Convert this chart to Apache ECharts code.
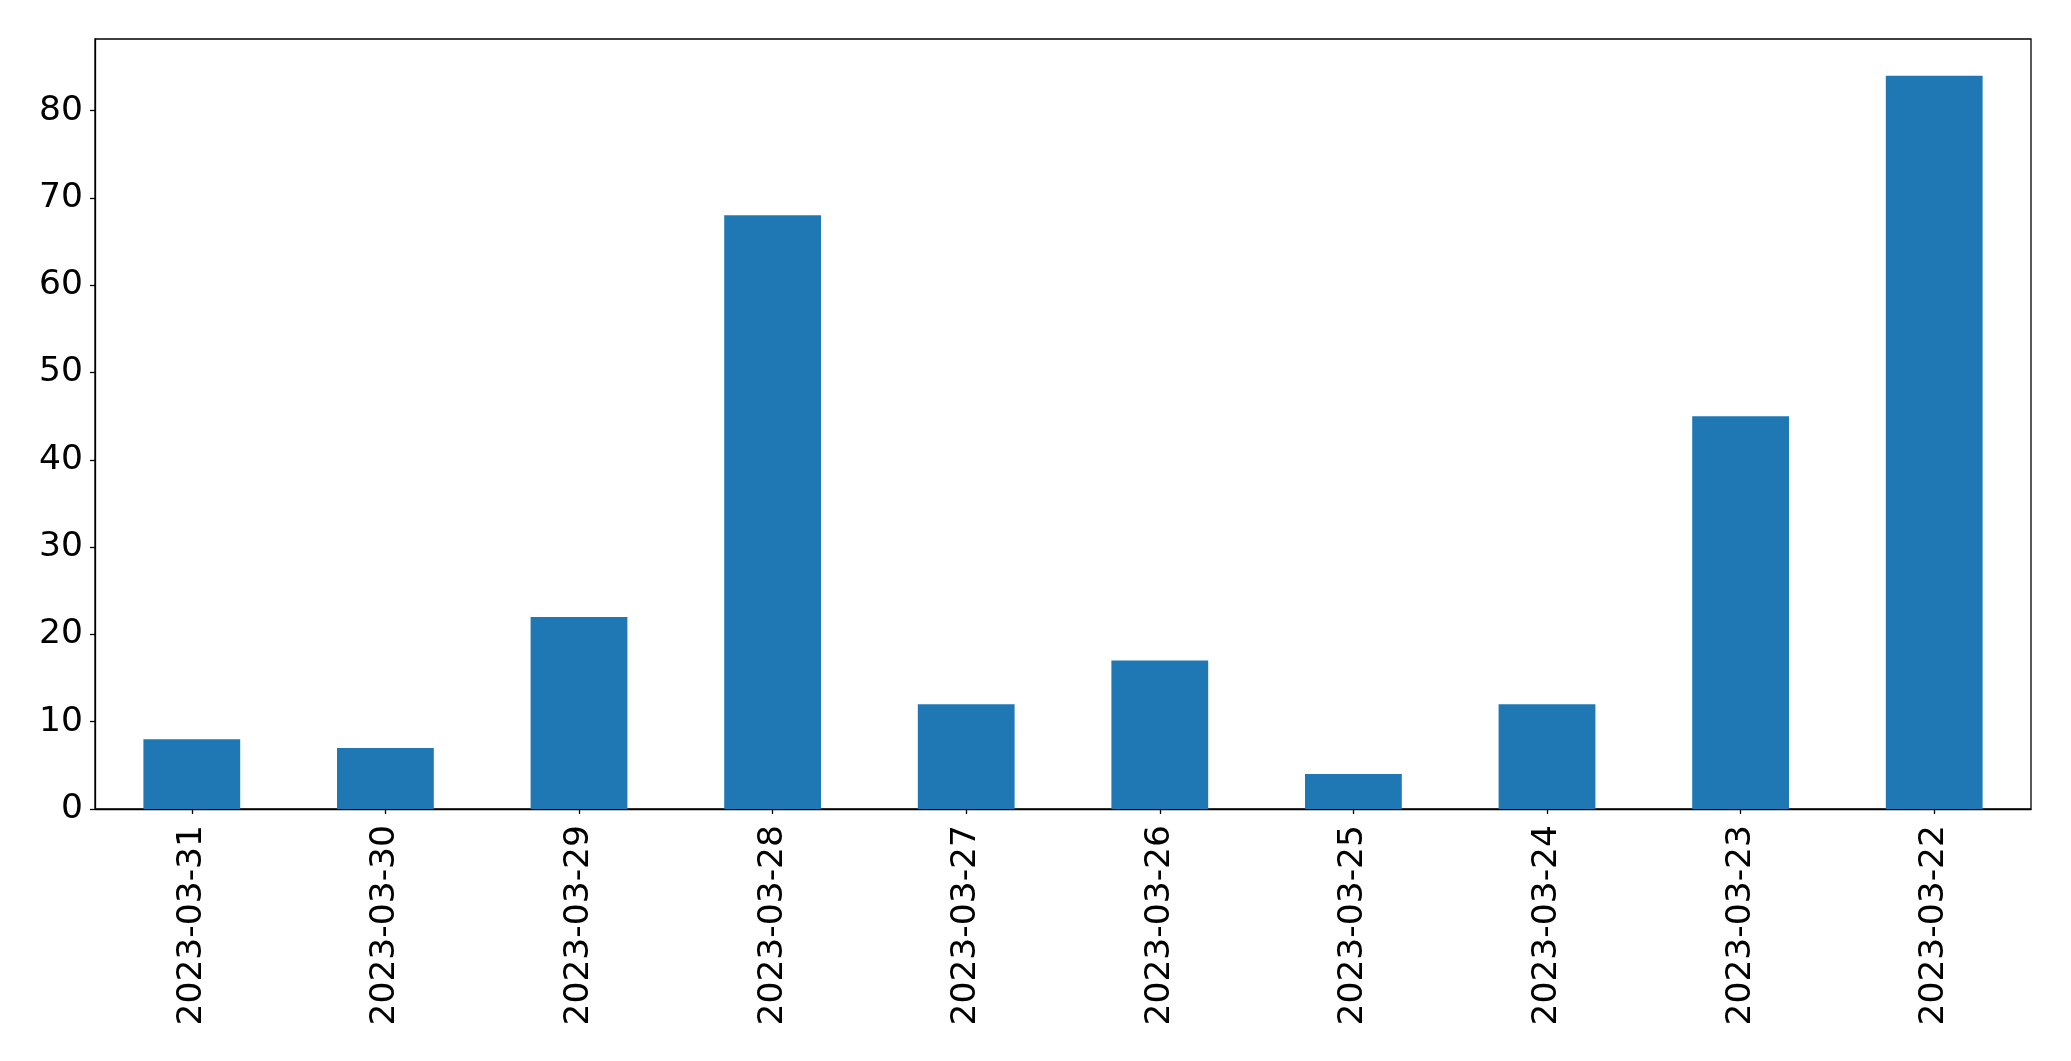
<!DOCTYPE html>
<html>
<head>
<meta charset="utf-8">
<script src="https://cdn.jsdelivr.net/npm/echarts@6/dist/echarts.min.js"></script>
<style>
html,body{margin:0;padding:0;background:#fff;}
#c{width:2071px;height:1061px;}
</style>
</head>
<body>
<div id="c"></div>
<script>
const categories = ["2023-03-31","2023-03-30","2023-03-29","2023-03-28","2023-03-27","2023-03-26","2023-03-25","2023-03-24","2023-03-23","2023-03-22"];
const values = [8, 7, 22, 68, 12, 17, 4, 12, 45, 84];
const yTicks = [0, 10, 20, 30, 40, 50, 60, 70, 80];

const chart = echarts.init(document.getElementById('c'), null, {renderer: 'canvas'});
const font = 'DejaVu Sans';
chart.setOption({
  animation: false,
  backgroundColor: '#ffffff',
  grid: {left: 95, right: 40, top: 39, bottom: 252, containLabel: false,
         show: true, borderColor: '#000', borderWidth: 1.3, backgroundColor: 'transparent'},
  xAxis: {
    type: 'category',
    data: categories,
    boundaryGap: true,
    axisLine: {show: true, lineStyle: {color: '#000', width: 1.3}},
    axisTick: {show: true, alignWithLabel: true, length: 5, lineStyle: {color: '#000', width: 1.3}},
    axisLabel: {rotate: 90, fontFamily: font, fontSize: 34.5, color: '#000', margin: 16, interval: 0},
    splitLine: {show: false}
  },
  yAxis: {
    type: 'value',
    min: 0,
    max: 88.2,
    interval: 10,
    axisLine: {show: true, lineStyle: {color: '#000', width: 1.3}},
    axisTick: {show: true, length: 5, lineStyle: {color: '#000', width: 1.3}},
    axisLabel: {fontFamily: font, fontSize: 34.5, color: '#000', margin: 12,
      showMaxLabel: false,
      formatter: function (v) { return yTicks.indexOf(v) >= 0 ? String(v) : ''; }},
    splitLine: {show: false}
  },
  series: [{
    type: 'bar',
    data: values,
    barWidth: '50%',
    itemStyle: {color: '#1f77b4'}
  }]
});
</script>
</body>
</html>
